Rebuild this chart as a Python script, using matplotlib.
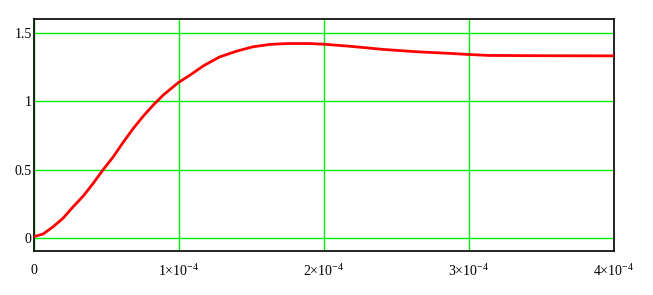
import matplotlib
matplotlib.use("Agg")
import matplotlib.pyplot as plt

plt.rcParams['font.family'] = ['Liberation Serif', 'DejaVu Serif']
plt.rcParams['mathtext.fontset'] = 'custom'
plt.rcParams['mathtext.rm'] = 'Liberation Serif'
plt.rcParams['mathtext.it'] = 'Liberation Serif'

# curve
t = [0, 0.64e-5, 1.33e-5, 2.0e-5, 2.71e-5, 3.4e-5, 4.09e-5, 4.78e-5, 5.47e-5,
     6.16e-5, 6.85e-5, 7.54e-5, 8.23e-5, 8.92e-5, 9.95e-5, 1.08e-4, 1.17e-4,
     1.28e-4, 1.4e-4, 1.51e-4, 1.63e-4, 1.75e-4, 1.9e-4, 2.0e-4, 2.18e-4,
     2.41e-4, 2.64e-4, 2.87e-4, 3.0e-4, 3.14e-4, 3.5e-4, 4.0e-4]
y = [0.01, 0.03, 0.083, 0.144, 0.229, 0.307, 0.40, 0.50, 0.593,
     0.70, 0.80, 0.89, 0.971, 1.044, 1.134, 1.192, 1.258,
     1.322, 1.365, 1.396, 1.414, 1.42, 1.42, 1.415, 1.40,
     1.377, 1.36, 1.348, 1.34, 1.333, 1.331, 1.33]

xticks = [0, 1e-4, 2e-4, 3e-4, 4e-4]
xlabels = ['0', r'$1{\times}10^{-4}$', r'$2{\times}10^{-4}$', r'$3{\times}10^{-4}$', r'$4{\times}10^{-4}$']
yticks = [0, 0.5, 1, 1.5]
ylabels = ['0', '0.5', '1', '1.5']

fig = plt.figure(figsize=(6.53, 2.95), dpi=100)
ax = fig.add_axes([0.052, 0.149, 0.888, 0.787])

ax.plot(t, y, color='#ff0000', lw=2, zorder=3, solid_joinstyle='round')

ax.set_xlim(0, 4e-4)
ax.set_ylim(-0.095, 1.6)
ax.set_xticks(xticks)
ax.set_xticklabels(xlabels)
ax.set_yticks(yticks)
ax.set_yticklabels(ylabels)
ax.tick_params(length=0, labelsize=10, colors='black')
ax.tick_params(axis='x', pad=9)
ax.tick_params(axis='y', pad=1.5)
ax.grid(True, color='#00ee00', lw=1)
for s in ax.spines.values():
    s.set_color('black')
    s.set_linewidth(1.2)

fig.savefig('out.png', dpi=100)
